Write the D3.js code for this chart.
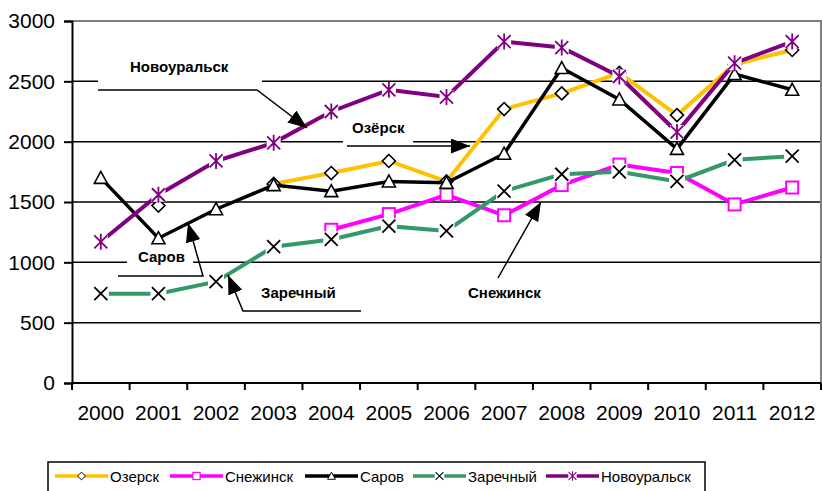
<!DOCTYPE html>
<html>
<head>
<meta charset="utf-8">
<script src="https://cdn.jsdelivr.net/npm/d3@7"></script>
<style>
  body { margin: 0; background: #fff; }
  svg { display: block; font-family: "Liberation Sans", Arial, sans-serif; }
</style>
</head>
<body>
<script>
// data
var years = ["2000","2001","2002","2003","2004","2005","2006","2007","2008","2009","2010","2011","2012"];
var ozersk      = [null, 1470, null, 1650, 1740, 1840, 1670, 2270, 2400, 2570, 2220, 2640, 2760];
var snezhinsk   = [null, null, null, null, 1270, 1400, 1560, 1390, 1640, 1810, 1740, 1480, 1620];
var sarov       = [1700, 1200, 1440, 1640, 1590, 1670, 1660, 1900, 2610, 2350, 1940, 2560, 2430];
var zarechny    = [740, 740, 840, 1130, 1190, 1300, 1260, 1590, 1730, 1750, 1670, 1850, 1880];
var novouralsk  = [1170, 1560, 1840, 1990, 2250, 2430, 2370, 2830, 2780, 2540, 2080, 2650, 2830];
var yTicks = [0, 500, 1000, 1500, 2000, 2500, 3000];

var series = [
  {name: "Озерск",      values: ozersk,     color: "#FFC000", width: 4,   marker: "diamond"},
  {name: "Снежинск",    values: snezhinsk,  color: "#FF00FF", width: 4,   marker: "square"},
  {name: "Саров",       values: sarov,      color: "#000000", width: 3.5, marker: "triangle"},
  {name: "Заречный",    values: zarechny,   color: "#339966", width: 4,   marker: "cross"},
  {name: "Новоуральск", values: novouralsk, color: "#800080", width: 4,   marker: "star"}
];

var W = 822, H = 491;
var pLeft = 72, pRight = 821, pTop = 21, pBottom = 383;

var svg = d3.select("body").append("svg")
    .attr("width", W)
    .attr("height", H);

svg.append("defs").append("marker")
    .attr("id", "arrow")
    .attr("markerUnits", "userSpaceOnUse")
    .attr("markerWidth", 19)
    .attr("markerHeight", 15)
    .attr("refX", 19)
    .attr("refY", 7.5)
    .attr("orient", "auto")
  .append("path")
    .attr("d", "M0,0L19,7.5L0,15Z")
    .attr("fill", "#000");

var x = d3.scaleBand().domain(years).range([pLeft, pRight]);
var y = d3.scaleLinear().domain([0, 3000]).range([pBottom, pTop]);
function cx(i) { return x(years[i]) + x.bandwidth() / 2; }

// gridlines
svg.append("g")
  .selectAll("line")
  .data(yTicks.filter(function(d){ return d > 0 && d < 3000; }))
  .enter().append("line")
    .attr("x1", pLeft).attr("x2", pRight)
    .attr("y1", function(d){ return y(d); })
    .attr("y2", function(d){ return y(d); })
    .attr("stroke", "#000")
    .attr("stroke-width", 1.5);

// plot border (top / right in grey)
svg.append("path")
    .attr("d", "M" + pLeft + "," + pTop + "H" + pRight + "V" + pBottom)
    .attr("fill", "none")
    .attr("stroke", "#808080")
    .attr("stroke-width", 2);

// y axis
var yAxis = svg.append("g")
    .attr("transform", "translate(" + pLeft + ",0)")
    .call(d3.axisLeft(y).tickValues(yTicks).tickFormat(d3.format("d")).tickSize(8).tickPadding(9));
yAxis.selectAll("text").attr("font-size", 21).attr("fill", "#000")
    .attr("font-family", "Liberation Sans, Arial, sans-serif");
yAxis.selectAll("line, path").attr("stroke", "#000").attr("stroke-width", 2);

// x axis: ticks at band edges, labels at centres
var xAxis = svg.append("g")
    .attr("transform", "translate(0," + pBottom + ")");
xAxis.append("line")
    .attr("x1", pLeft).attr("x2", pRight)
    .attr("stroke", "#000").attr("stroke-width", 2);
xAxis.selectAll(".tk")
  .data(years.concat(["end"]))
  .enter().append("line")
    .attr("class", "tk")
    .attr("x1", function(d, i){ return pLeft + i * x.bandwidth(); })
    .attr("x2", function(d, i){ return pLeft + i * x.bandwidth(); })
    .attr("y1", 0).attr("y2", 7)
    .attr("stroke", "#000").attr("stroke-width", 2);
xAxis.selectAll("text")
  .data(years)
  .enter().append("text")
    .attr("x", function(d, i){ return cx(i); })
    .attr("y", 37)
    .attr("text-anchor", "middle")
    .attr("font-size", 21)
    .text(function(d){ return d; });

// annotation boxes (white behind labels, they cut the gridlines)
var boxes = [[98, 52, 164, 35], [343, 117, 70, 27], [127, 247, 66, 22]];
svg.selectAll(".box")
  .data(boxes)
  .enter().append("rect")
    .attr("class", "box")
    .attr("x", function(d){ return d[0]; })
    .attr("y", function(d){ return d[1]; })
    .attr("width", function(d){ return d[2]; })
    .attr("height", function(d){ return d[3]; })
    .attr("fill", "#fff");

function drawMarker(g, type, color) {
  if (type === "diamond") {
    g.append("path").attr("d", "M0,-6.5L6.5,0L0,6.5L-6.5,0Z")
      .attr("fill", "#fff").attr("stroke", "#000").attr("stroke-width", 1.6);
  } else if (type === "square") {
    g.append("rect").attr("x", -6).attr("y", -6).attr("width", 12).attr("height", 12)
      .attr("fill", "#fff").attr("stroke", color).attr("stroke-width", 2);
  } else if (type === "triangle") {
    g.append("path").attr("d", "M0,-6.5L6.5,5.5L-6.5,5.5Z")
      .attr("fill", "#fff").attr("stroke", "#000").attr("stroke-width", 1.6);
  } else if (type === "cross") {
    g.append("rect").attr("x", -8).attr("y", -8).attr("width", 16).attr("height", 16).attr("fill", "#fff");
    g.append("path").attr("d", "M-6.5,-6.5L6.5,6.5M-6.5,6.5L6.5,-6.5")
      .attr("stroke", "#000").attr("stroke-width", 1.8);
  } else if (type === "star") {
    g.append("rect").attr("x", -7).attr("y", -7).attr("width", 14).attr("height", 14).attr("fill", "#fff");
    g.append("path").attr("d", "M-6.5,-6.5L6.5,6.5M-6.5,6.5L6.5,-6.5M0,-8V8")
      .attr("stroke", color).attr("stroke-width", 1.8);
  }
}

var line = d3.line()
    .defined(function(d){ return d != null; })
    .x(function(d, i){ return cx(i); })
    .y(function(d){ return y(d); });

series.forEach(function(s) {
  var g = svg.append("g");
  g.append("path")
      .datum(s.values)
      .attr("fill", "none")
      .attr("stroke", s.color)
      .attr("stroke-width", s.width)
      .attr("d", line);
  s.values.forEach(function(v, i) {
    if (v == null) return;
    var m = g.append("g").attr("transform", "translate(" + cx(i) + "," + y(v) + ")");
    drawMarker(m, s.marker, s.color);
  });
});

// callouts
var labels = [
  {text: "Новоуральск", x: 130, y: 72},
  {text: "Озёрск",      x: 352, y: 133},
  {text: "Саров",       x: 138, y: 262},
  {text: "Заречный",    x: 261, y: 298},
  {text: "Снежинск",    x: 468, y: 298}
];
var arrows = [
  [[98, 90], [257, 90], [307, 128]],
  [[347, 146], [470, 146]],
  [[118, 276], [203, 276], [188, 223]],
  [[361, 311], [243, 311], [228, 275]],
  [[498, 278], [541, 202]]
];
svg.selectAll(".lbl")
  .data(labels)
  .enter().append("text")
    .attr("class", "lbl")
    .attr("x", function(d){ return d.x; })
    .attr("y", function(d){ return d.y; })
    .attr("font-size", 15)
    .attr("font-weight", "bold")
    .text(function(d){ return d.text; });
svg.selectAll(".arr")
  .data(arrows)
  .enter().append("path")
    .attr("class", "arr")
    .attr("d", function(d){ return "M" + d.join("L"); })
    .attr("fill", "none")
    .attr("stroke", "#000")
    .attr("stroke-width", 1.5)
    .attr("marker-end", "url(#arrow)");

// legend
svg.append("rect")
    .attr("x", 48).attr("y", 462)
    .attr("width", 657).attr("height", 40)
    .attr("fill", "#fff")
    .attr("stroke", "#000")
    .attr("stroke-width", 1.5);
var legX = [55, 170, 305, 413, 546];
var leg = svg.selectAll(".leg")
  .data(series)
  .enter().append("g")
    .attr("class", "leg")
    .attr("transform", function(d, i){ return "translate(" + legX[i] + ",476)"; });
leg.append("line")
    .attr("x1", 0).attr("x2", 53)
    .attr("stroke", function(d){ return d.color; })
    .attr("stroke-width", 3.5);
leg.each(function(d) {
  var m = d3.select(this).append("g").attr("transform", "translate(26.5,0) scale(0.6)");
  drawMarker(m, d.marker, d.color);
});
leg.append("text")
    .attr("x", 55)
    .attr("y", 5.5)
    .attr("font-size", 15)
    .text(function(d){ return d.name; });
</script>
</body>
</html>
